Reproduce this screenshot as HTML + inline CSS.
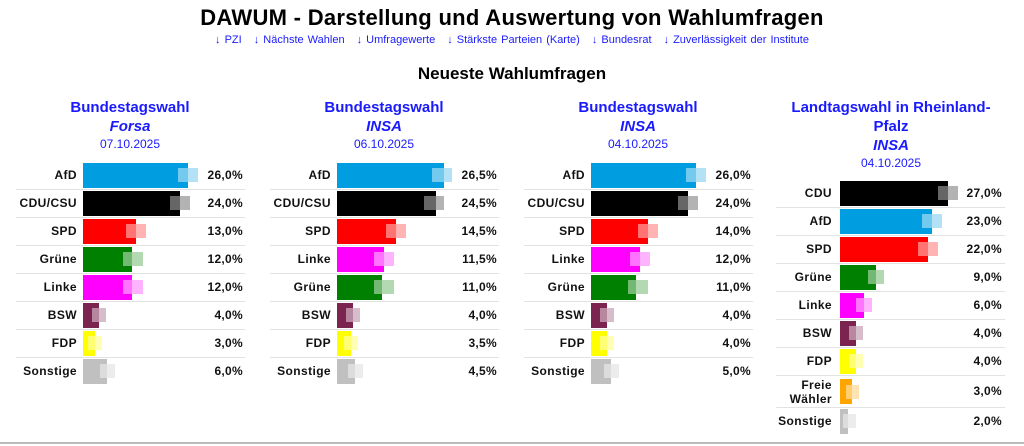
<!DOCTYPE html>
<html><head><meta charset="utf-8"><style>
*{margin:0;padding:0;box-sizing:border-box}
body{width:1024px;height:446px;background:#fff;font-family:"Liberation Sans",Arial,sans-serif;position:relative;overflow:hidden}
.t{position:absolute;left:0;width:1024px;text-align:center}
.nav{top:34px;font-size:11px;color:#1a1aff;word-spacing:1px}
.nav span{margin:0 6px}
.hd{position:absolute;text-align:center;color:#1a1aff;font-weight:bold;font-size:15px;line-height:19px}
.hd i{display:block}
.hd .d{font-weight:normal;font-size:12px;line-height:16px}
.r{position:absolute;height:28px;border-bottom:1px solid #e2e2e2}
.r.last{border-bottom:none}
.l{position:absolute;right:0;top:0;height:27px;line-height:27px;font-size:12px;font-weight:bold;color:#111;text-align:right;letter-spacing:.4px}
.b{position:absolute;top:1px;height:25px}
.m{position:absolute;top:6px;height:14px;width:20px}
.p{position:absolute;top:0;line-height:27px;font-size:12px;font-weight:bold;color:#111;text-align:right;letter-spacing:.3px}
</style></head><body>
<div class="t" style="top:5px;font-size:22px;font-weight:bold;letter-spacing:.3px">DAWUM - Darstellung und Auswertung von Wahlumfragen</div>
<div class="t nav"><span>↓ PZI</span><span>↓ Nächste Wahlen</span><span>↓ Umfragewerte</span><span>↓ Stärkste Parteien (Karte)</span><span>↓ Bundesrat</span><span>↓ Zuverlässigkeit der Institute</span></div>
<div class="t" style="top:64px;font-size:17px;font-weight:bold">Neueste Wahlumfragen</div>

<div class="hd" style="left:30px;width:200px;top:98px">Bundestagswahl<i>Forsa</i><div class="d">07.10.2025</div></div>
<div class="hd" style="left:284px;width:200px;top:98px">Bundestagswahl<i>INSA</i><div class="d">06.10.2025</div></div>
<div class="hd" style="left:538px;width:200px;top:98px">Bundestagswahl<i>INSA</i><div class="d">04.10.2025</div></div>
<div class="hd" style="left:775px;width:232px;top:98px">Landtagswahl in Rheinland-Pfalz<i>INSA</i><div class="d">04.10.2025</div></div>

<!-- Panel 1 -->
<div style="position:absolute;left:16px;top:162px;width:229px">
<div class="r" style="top:0;width:229px"><div class="l" style="right:168px">AfD</div><div class="b" style="left:67px;width:105px;background:#009ee0"></div><div class="m" style="left:162px;background:linear-gradient(90deg,rgba(255,255,255,.45) 10px,#b3e2f6 10px)"></div><div class="p" style="right:2px">26,0%</div></div>
<div class="r" style="top:28px;width:229px"><div class="l" style="right:168px">CDU/CSU</div><div class="b" style="left:67px;width:97px;background:#000"></div><div class="m" style="left:154px;background:linear-gradient(90deg,rgba(255,255,255,.4) 10px,#b3b3b3 10px)"></div><div class="p" style="right:2px">24,0%</div></div>
<div class="r" style="top:56px;width:229px"><div class="l" style="right:168px">SPD</div><div class="b" style="left:67px;width:53px;background:#f00"></div><div class="m" style="left:110px;background:linear-gradient(90deg,rgba(255,255,255,.45) 10px,#ffb3b3 10px)"></div><div class="p" style="right:2px">13,0%</div></div>
<div class="r" style="top:84px;width:229px"><div class="l" style="right:168px">Grüne</div><div class="b" style="left:67px;width:49px;background:#008000"></div><div class="m" style="left:107px;background:linear-gradient(90deg,rgba(255,255,255,.45) 9px,#b3d9b3 9px)"></div><div class="p" style="right:2px">12,0%</div></div>
<div class="r" style="top:112px;width:229px"><div class="l" style="right:168px">Linke</div><div class="b" style="left:67px;width:49px;background:#f0f"></div><div class="m" style="left:107px;background:linear-gradient(90deg,rgba(255,255,255,.45) 9px,#ffb3ff 9px)"></div><div class="p" style="right:2px">12,0%</div></div>
<div class="r" style="top:140px;width:229px"><div class="l" style="right:168px">BSW</div><div class="b" style="left:67px;width:16px;background:#7b2450"></div><div class="m" style="left:76px;width:14px;background:linear-gradient(90deg,rgba(255,255,255,.45) 7px,#d7bdcb 7px)"></div><div class="p" style="right:2px">4,0%</div></div>
<div class="r" style="top:168px;width:229px"><div class="l" style="right:168px">FDP</div><div class="b" style="left:67px;width:12px;background:#ff0"></div><div class="m" style="left:72px;width:14px;background:linear-gradient(90deg,rgba(255,255,255,.45) 7px,#ffffb3 7px)"></div><div class="p" style="right:2px">3,0%</div></div>
<div class="r last" style="top:196px;width:229px"><div class="l" style="right:168px">Sonstige</div><div class="b" style="left:67px;width:24px;background:#c0c0c0"></div><div class="m" style="left:84px;width:15px;background:linear-gradient(90deg,rgba(255,255,255,.45) 7px,#ececec 7px)"></div><div class="p" style="right:2px">6,0%</div></div>
</div>
<!-- Panel 2 -->
<div style="position:absolute;left:270px;top:162px;width:229px">
<div class="r" style="top:0;width:229px"><div class="l" style="right:168px">AfD</div><div class="b" style="left:67px;width:107px;background:#009ee0"></div><div class="m" style="left:162px;background:linear-gradient(90deg,rgba(255,255,255,.45) 12px,#b3e2f6 12px)"></div><div class="p" style="right:2px">26,5%</div></div>
<div class="r" style="top:28px;width:229px"><div class="l" style="right:168px">CDU/CSU</div><div class="b" style="left:67px;width:99px;background:#000"></div><div class="m" style="left:154px;background:linear-gradient(90deg,rgba(255,255,255,.4) 12px,#b3b3b3 12px)"></div><div class="p" style="right:2px">24,5%</div></div>
<div class="r" style="top:56px;width:229px"><div class="l" style="right:168px">SPD</div><div class="b" style="left:67px;width:59px;background:#f00"></div><div class="m" style="left:116px;background:linear-gradient(90deg,rgba(255,255,255,.45) 10px,#ffb3b3 10px)"></div><div class="p" style="right:2px">14,5%</div></div>
<div class="r" style="top:84px;width:229px"><div class="l" style="right:168px">Linke</div><div class="b" style="left:67px;width:47px;background:#f0f"></div><div class="m" style="left:104px;background:linear-gradient(90deg,rgba(255,255,255,.45) 10px,#ffb3ff 10px)"></div><div class="p" style="right:2px">11,5%</div></div>
<div class="r" style="top:112px;width:229px"><div class="l" style="right:168px">Grüne</div><div class="b" style="left:67px;width:45px;background:#008000"></div><div class="m" style="left:104px;background:linear-gradient(90deg,rgba(255,255,255,.45) 8px,#b3d9b3 8px)"></div><div class="p" style="right:2px">11,0%</div></div>
<div class="r" style="top:140px;width:229px"><div class="l" style="right:168px">BSW</div><div class="b" style="left:67px;width:16px;background:#7b2450"></div><div class="m" style="left:76px;width:14px;background:linear-gradient(90deg,rgba(255,255,255,.45) 7px,#d7bdcb 7px)"></div><div class="p" style="right:2px">4,0%</div></div>
<div class="r" style="top:168px;width:229px"><div class="l" style="right:168px">FDP</div><div class="b" style="left:67px;width:14px;background:#ff0"></div><div class="m" style="left:74px;width:14px;background:linear-gradient(90deg,rgba(255,255,255,.45) 7px,#ffffb3 7px)"></div><div class="p" style="right:2px">3,5%</div></div>
<div class="r last" style="top:196px;width:229px"><div class="l" style="right:168px">Sonstige</div><div class="b" style="left:67px;width:18px;background:#c0c0c0"></div><div class="m" style="left:78px;width:15px;background:linear-gradient(90deg,rgba(255,255,255,.45) 7px,#ececec 7px)"></div><div class="p" style="right:2px">4,5%</div></div>
</div>
<!-- Panel 3 -->
<div style="position:absolute;left:524px;top:162px;width:229px">
<div class="r" style="top:0;width:229px"><div class="l" style="right:168px">AfD</div><div class="b" style="left:67px;width:105px;background:#009ee0"></div><div class="m" style="left:162px;background:linear-gradient(90deg,rgba(255,255,255,.45) 10px,#b3e2f6 10px)"></div><div class="p" style="right:2px">26,0%</div></div>
<div class="r" style="top:28px;width:229px"><div class="l" style="right:168px">CDU/CSU</div><div class="b" style="left:67px;width:97px;background:#000"></div><div class="m" style="left:154px;background:linear-gradient(90deg,rgba(255,255,255,.4) 10px,#b3b3b3 10px)"></div><div class="p" style="right:2px">24,0%</div></div>
<div class="r" style="top:56px;width:229px"><div class="l" style="right:168px">SPD</div><div class="b" style="left:67px;width:57px;background:#f00"></div><div class="m" style="left:114px;background:linear-gradient(90deg,rgba(255,255,255,.45) 10px,#ffb3b3 10px)"></div><div class="p" style="right:2px">14,0%</div></div>
<div class="r" style="top:84px;width:229px"><div class="l" style="right:168px">Linke</div><div class="b" style="left:67px;width:49px;background:#f0f"></div><div class="m" style="left:106px;background:linear-gradient(90deg,rgba(255,255,255,.45) 10px,#ffb3ff 10px)"></div><div class="p" style="right:2px">12,0%</div></div>
<div class="r" style="top:112px;width:229px"><div class="l" style="right:168px">Grüne</div><div class="b" style="left:67px;width:45px;background:#008000"></div><div class="m" style="left:104px;background:linear-gradient(90deg,rgba(255,255,255,.45) 8px,#b3d9b3 8px)"></div><div class="p" style="right:2px">11,0%</div></div>
<div class="r" style="top:140px;width:229px"><div class="l" style="right:168px">BSW</div><div class="b" style="left:67px;width:16px;background:#7b2450"></div><div class="m" style="left:76px;width:14px;background:linear-gradient(90deg,rgba(255,255,255,.45) 7px,#d7bdcb 7px)"></div><div class="p" style="right:2px">4,0%</div></div>
<div class="r" style="top:168px;width:229px"><div class="l" style="right:168px">FDP</div><div class="b" style="left:67px;width:16px;background:#ff0"></div><div class="m" style="left:76px;width:14px;background:linear-gradient(90deg,rgba(255,255,255,.45) 7px,#ffffb3 7px)"></div><div class="p" style="right:2px">4,0%</div></div>
<div class="r last" style="top:196px;width:229px"><div class="l" style="right:168px">Sonstige</div><div class="b" style="left:67px;width:20px;background:#c0c0c0"></div><div class="m" style="left:80px;width:15px;background:linear-gradient(90deg,rgba(255,255,255,.45) 7px,#ececec 7px)"></div><div class="p" style="right:2px">5,0%</div></div>
</div>
<!-- Panel 4 -->
<div style="position:absolute;left:776px;top:180px;width:229px">
<div class="r" style="top:0;width:229px"><div class="l" style="right:173px">CDU</div><div class="b" style="left:64px;width:108px;background:#000"></div><div class="m" style="left:162px;background:linear-gradient(90deg,rgba(255,255,255,.4) 10px,#b3b3b3 10px)"></div><div class="p" style="right:3px">27,0%</div></div>
<div class="r" style="top:28px;width:229px"><div class="l" style="right:173px">AfD</div><div class="b" style="left:64px;width:92px;background:#009ee0"></div><div class="m" style="left:146px;background:linear-gradient(90deg,rgba(255,255,255,.45) 10px,#b3e2f6 10px)"></div><div class="p" style="right:3px">23,0%</div></div>
<div class="r" style="top:56px;width:229px"><div class="l" style="right:173px">SPD</div><div class="b" style="left:64px;width:88px;background:#f00"></div><div class="m" style="left:142px;background:linear-gradient(90deg,rgba(255,255,255,.45) 10px,#ffb3b3 10px)"></div><div class="p" style="right:3px">22,0%</div></div>
<div class="r" style="top:84px;width:229px"><div class="l" style="right:173px">Grüne</div><div class="b" style="left:64px;width:36px;background:#008000"></div><div class="m" style="left:92px;width:16px;background:linear-gradient(90deg,rgba(255,255,255,.45) 8px,#b3d9b3 8px)"></div><div class="p" style="right:3px">9,0%</div></div>
<div class="r" style="top:112px;width:229px"><div class="l" style="right:173px">Linke</div><div class="b" style="left:64px;width:24px;background:#f0f"></div><div class="m" style="left:80px;width:16px;background:linear-gradient(90deg,rgba(255,255,255,.45) 8px,#ffb3ff 8px)"></div><div class="p" style="right:3px">6,0%</div></div>
<div class="r" style="top:140px;width:229px"><div class="l" style="right:173px">BSW</div><div class="b" style="left:64px;width:16px;background:#7b2450"></div><div class="m" style="left:73px;width:14px;background:linear-gradient(90deg,rgba(255,255,255,.45) 7px,#d7bdcb 7px)"></div><div class="p" style="right:3px">4,0%</div></div>
<div class="r" style="top:168px;width:229px"><div class="l" style="right:173px">FDP</div><div class="b" style="left:64px;width:16px;background:#ff0"></div><div class="m" style="left:73px;width:14px;background:linear-gradient(90deg,rgba(255,255,255,.45) 7px,#ffffb3 7px)"></div><div class="p" style="right:3px">4,0%</div></div>
<div class="r" style="top:196px;width:229px;height:32px"><div class="l" style="right:173px;line-height:14px;top:2px;height:auto">Freie<br>Wähler</div><div class="b" style="left:64px;width:12px;top:3px;background:#ffa500"></div><div class="m" style="left:70px;top:9px;width:13px;background:linear-gradient(90deg,rgba(255,255,255,.45) 6px,#ffe4b3 6px)"></div><div class="p" style="right:3px;line-height:31px">3,0%</div></div>
<div class="r last" style="top:228px;width:229px"><div class="l" style="right:173px">Sonstige</div><div class="b" style="left:64px;width:8px;background:#c0c0c0"></div><div class="m" style="left:67px;width:13px;background:linear-gradient(90deg,rgba(255,255,255,.45) 5px,#ececec 5px)"></div><div class="p" style="right:3px">2,0%</div></div>
</div>
<div style="position:absolute;left:0;top:442px;width:1024px;height:2px;background:#bbb"></div>
</body></html>
